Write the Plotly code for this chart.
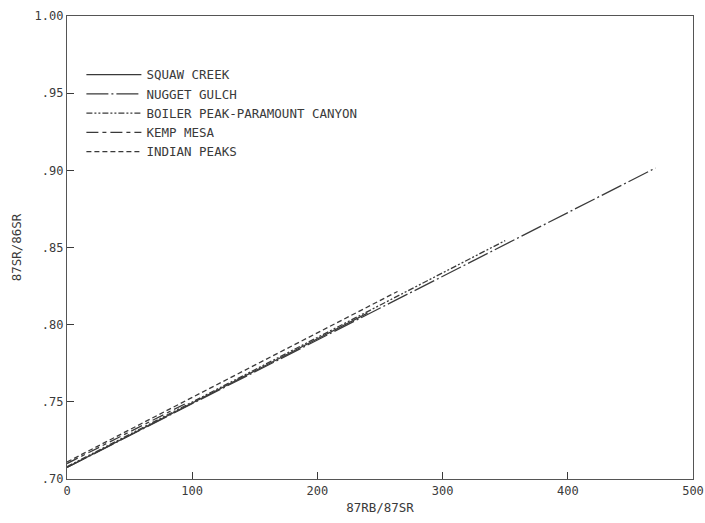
import plotly.graph_objects as go

# Data
series_names = ["SQUAW CREEK", "NUGGET GULCH", "BOILER PEAK-PARAMOUNT CANYON", "KEMP MESA", "INDIAN PEAKS"]
squaw_x = [0, 240]
squaw_y = [0.7075, 0.8075]
nugget_x = [0, 470]
nugget_y = [0.7075, 0.9015]
boiler_x = [0, 350]
boiler_y = [0.7080, 0.8545]
kemp_x = [0, 95]
kemp_y = [0.7100, 0.7490]
indian_x = [0, 264]
indian_y = [0.7110, 0.8215]

x_tickvals = [0, 100, 200, 300, 400, 500]
x_ticktext = ["0", "100", "200", "300", "400", "500"]
y_tickvals = [0.70, 0.75, 0.80, 0.85, 0.90, 0.95, 1.00]
y_ticktext = [".70", ".75", ".80", ".85", ".90", ".95", "1.00"]

FONT = "DejaVu Sans Mono"
INK = "#3a3a3a"

dashes = ["solid", "22px,3px,2px,3px", "6px,2px,2px,2px,2px,2px", "12px,4px,4px,4px", "5px,3px"]
xs = [squaw_x, nugget_x, boiler_x, kemp_x, indian_x]
ys = [squaw_y, nugget_y, boiler_y, kemp_y, indian_y]

fig = go.Figure()
for name, x, y, d in zip(series_names, xs, ys, dashes):
    fig.add_trace(go.Scatter(x=x, y=y, mode="lines", name=name,
                             line=dict(color=INK, width=1.3, dash=d)))

fig.update_layout(
    width=705, height=523,
    margin=dict(l=67, r=12, t=16, b=44, autoexpand=False),
    paper_bgcolor="white", plot_bgcolor="white",
    font=dict(family=FONT, size=12, color=INK),
    showlegend=True,
    legend=dict(x=0.023, y=0.905, xanchor="left", yanchor="top",
                bgcolor="rgba(0,0,0,0)", borderwidth=0,
                font=dict(family=FONT, size=12.5, color=INK),
                tracegroupgap=0, itemwidth=55),
)
fig.update_xaxes(range=[0, 500], tickvals=x_tickvals, ticktext=x_ticktext,
                 ticks="inside", ticklen=7, tickcolor=INK, showgrid=False, zeroline=False,
                 showline=True, linecolor="#555", linewidth=1.2, mirror=True, automargin=True,
                 title=dict(text="87RB/87SR", font=dict(family=FONT, size=12.5), standoff=6),
                 tickfont=dict(family=FONT, size=12))
fig.update_yaxes(range=[0.70, 1.00], tickvals=y_tickvals, ticktext=y_ticktext,
                 ticks="inside", ticklen=7, tickcolor=INK, showgrid=False, zeroline=False,
                 showline=True, linecolor="#555", linewidth=1.2, mirror=True, automargin=True,
                 title=dict(text="87SR/86SR", font=dict(family=FONT, size=12.5), standoff=10),
                 tickfont=dict(family=FONT, size=12))

fig.write_html("out.html", config={"displayModeBar": False},
               post_script="document.body.style.margin='0';")
